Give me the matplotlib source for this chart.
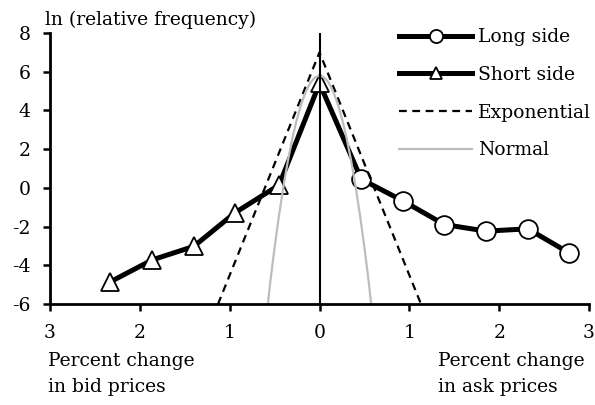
import matplotlib
matplotlib.use("Agg")
import matplotlib.pyplot as plt

plt.rcParams["font.family"] = ["DejaVu Serif"]
plt.rcParams["axes.unicode_minus"] = False

# Observed price changes (percent, bid side plotted to the left as negatives)
long_x = [0.0, 0.465, 0.93, 1.39, 1.855, 2.32, 2.78]
long_y = [5.4, 0.45, -0.67, -1.89, -2.23, -2.11, -3.36]

short_x = [0.0, -0.45, -0.94, -1.40, -1.86, -2.33]
short_y = [5.4, 0.15, -1.28, -3.02, -3.71, -4.85]

# Reference distributions on the log scale
expo_x = [-1.13, 0.0, 1.13]
expo_y = [-6.0, 7.0, -6.0]

normal_x = [-0.575, -0.55, -0.5, -0.45, -0.4, -0.35, -0.3, -0.25, -0.2, -0.15,
            -0.1, -0.05, 0.0, 0.05, 0.1, 0.15, 0.2, 0.25, 0.3, 0.35, 0.4,
            0.45, 0.5, 0.55, 0.575]
normal_y = [-6.0, -4.94, -3.08, -1.39, 0.12, 1.45, 2.61, 3.58, 4.38, 5.0,
            5.45, 5.71, 5.8, 5.71, 5.45, 5.0, 4.38, 3.58, 2.61, 1.45, 0.12,
            -1.39, -3.08, -4.94, -6.0]

xticks = [-3, -2, -1, 0, 1, 2, 3]
xtick_labels = ["3", "2", "1", "0", "1", "2", "3"]
yticks = [-6, -4, -2, 0, 2, 4, 6, 8]

FS = 13.5

fig = plt.figure(figsize=(5.95, 4.05), dpi=100)
ax = fig.add_axes([0.084, 0.249, 0.906, 0.6695])

ax.plot(long_x, long_y, color="black", linewidth=3.6, marker="o",
        markersize=13.5, markerfacecolor="white", markeredgecolor="black",
        markeredgewidth=1.3, markevery=list(range(1, len(long_x))),
        label="Long side", zorder=3)
ax.plot(short_x, short_y, color="black", linewidth=3.6, marker="^",
        markersize=12.5, markerfacecolor="white", markeredgecolor="black",
        markeredgewidth=1.3, label="Short side", zorder=3)
ax.plot(expo_x, expo_y, color="black", linewidth=1.6, linestyle=(0, (3.5, 2.5)),
        label="Exponential", zorder=4)
ax.plot(normal_x, normal_y, color="#bdbdbd", linewidth=1.6,
        label="Normal", zorder=5)
ax.plot([0, 0], [-6, 8], color="black", linewidth=1.5, zorder=6)

ax.set_xlim(-3, 3)
ax.set_ylim(-6, 8)
ax.set_xticks(xticks)
ax.set_xticklabels(xtick_labels)
ax.set_yticks(yticks)
ax.tick_params(axis="both", direction="out", length=5, width=1.8,
               labelsize=FS)
ax.tick_params(axis="y", pad=9)
ax.tick_params(axis="x", pad=9)

for side in ["top", "right"]:
    ax.spines[side].set_visible(False)
for side in ["left", "bottom"]:
    ax.spines[side].set_linewidth(2.0)
ax.spines["bottom"].set_zorder(7)

fig.text(0.076, 0.951, "ln (relative frequency)", fontsize=FS,
         ha="left", va="center")
fig.text(0.081, 0.077, "Percent change\nin bid prices", fontsize=FS,
         ha="left", va="center", linespacing=1.6)
fig.text(0.736, 0.077, "Percent change\nin ask prices", fontsize=FS,
         ha="left", va="center", linespacing=1.6)

leg = ax.legend(loc="upper right", bbox_to_anchor=(1.035, 1.08), frameon=False,
                fontsize=FS, handlelength=3.85, handletextpad=0.35,
                labelspacing=1.05, markerscale=0.7)

fig.savefig("out.png", dpi=100)
